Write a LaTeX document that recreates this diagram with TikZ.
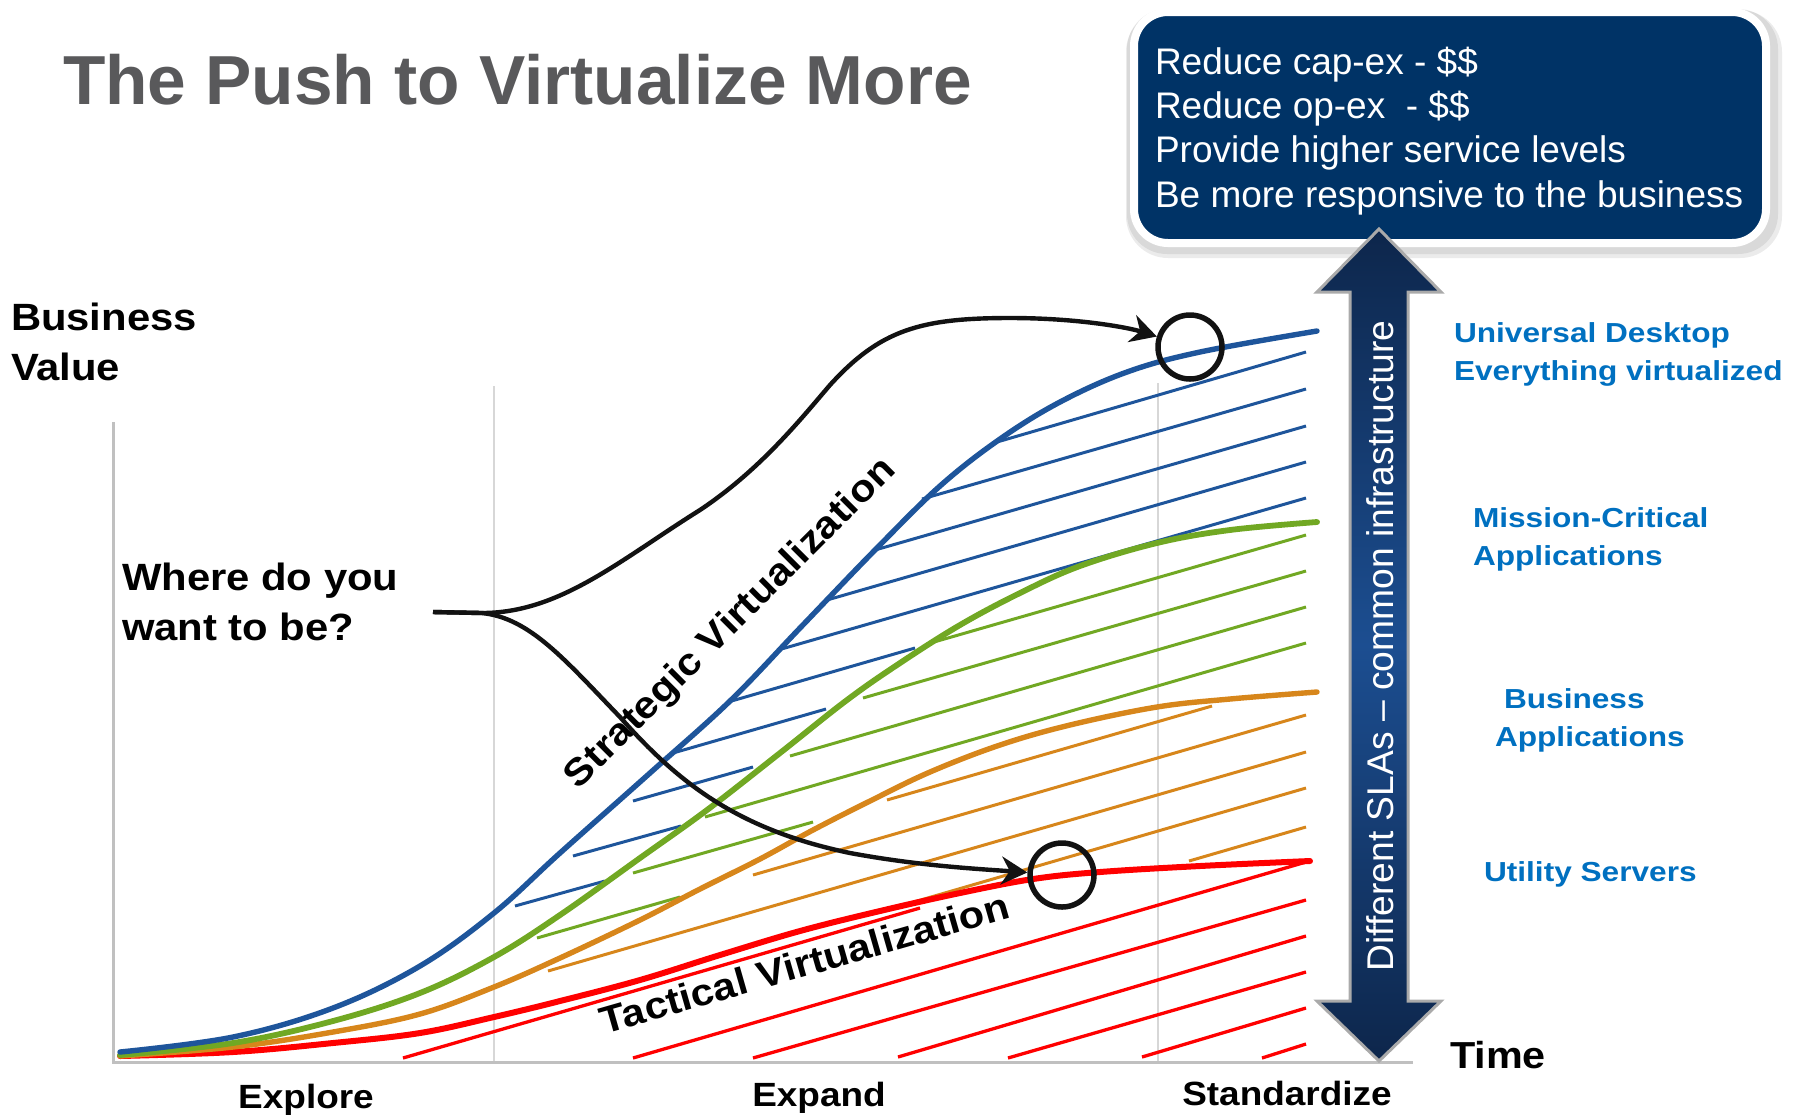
\documentclass[tikz,border=0pt]{standalone}
\usepackage{fontspec}
\setmainfont{Liberation Sans}
\newfontfamily\widesans[FakeStretch=1.1]{Liberation Sans}
\newfontfamily\widersans[FakeStretch=1.15]{Liberation Sans}
\usetikzlibrary{arrows.meta}
\definecolor{cblue}{RGB}{30,85,155}
\definecolor{cgreen}{RGB}{113,168,35}
\definecolor{corange}{RGB}{215,134,27}
\definecolor{cred}{RGB}{255,0,0}
\definecolor{navy}{RGB}{0,51,102}
\definecolor{arrdark}{RGB}{13,38,75}
\definecolor{arrlight}{RGB}{28,78,145}
\definecolor{arrgray}{RGB}{170,170,170}
\definecolor{titlegray}{RGB}{89,89,91}
\definecolor{lblblue}{RGB}{0,112,192}
\definecolor{gridgray}{RGB}{215,215,215}
\definecolor{axisgray}{RGB}{192,192,192}
\definecolor{inkblack}{RGB}{18,18,18}
\begin{document}
\begin{tikzpicture}[x=0.5pt,y=-0.5pt,
  txt/.style={inner sep=0pt,outer sep=0pt},
  titlestyle/.style={txt,font=\bfseries\fontsize{34.7}{40}\selectfont,text=titlegray},
  bigblack/.style={txt,align=left,font=\widesans\bfseries\fontsize{19}{24.7}\selectfont,text=black},
  axislbl/.style={txt,font=\widesans\bfseries\fontsize{16.8}{20}\selectfont,text=black},
  timelbl/.style={txt,font=\widesans\bfseries\fontsize{18.8}{22}\selectfont,text=black},
  diag/.style={txt,font=\widesans\bfseries\fontsize{18.9}{22}\selectfont,text=black},
  bluelbl/.style={txt,align=left,font=\widersans\bfseries\fontsize{13.75}{18.75}\selectfont,text=lblblue},
  goalbox/.style={rounded corners=17pt,fill=navy,draw=white,line width=4pt,inner sep=0pt},
  goaltext/.style={txt,align=left,font=\fontsize{18.5}{22.1}\selectfont,text=white},
  arrtext/.style={txt,font=\fontsize{18.6}{22}\selectfont,text=white},
  gridln/.style={draw=gridgray,line width=1pt},
  axisln/.style={draw=axisgray,line width=1.5pt},
  bh/.style={draw=cblue,line width=1.5pt},
  gh/.style={draw=cgreen,line width=1.5pt},
  oh/.style={draw=corange,line width=1.5pt},
  rh/.style={draw=cred,line width=1.65pt},
  curve/.style={line width=2.7pt,line cap=round},
  blk/.style={draw=inkblack,line width=2.2pt,-{Stealth[length=13pt,width=14pt]}},
  ring/.style={circle,draw=inkblack,line width=2.75pt,minimum size=32pt,inner sep=0pt}
]
\useasboundingbox (0,0) rectangle (1799,1116);

% grid and axes
\draw[gridln] (494,386) -- (494,1062);
\draw[gridln] (1158,383) -- (1158,1062);
\draw[axisln] (113,422) -- (113,1062) -- (1413,1062);

% hatch lines
\foreach \a/\b/\c/\d in {997/442/1306/352, 922/499/1306/389, 875/550/1306/426, 827/600/1306/462, 778/650/1306/498, 728/702/915/648, 673/753/826/709, 633/801/753/767, 573/856/681/826, 515/906/605/881}
  \draw[bh] (\a,\b) -- (\c,\d);
\foreach \a/\b/\c/\d in {934/642/1306/535, 863/698/1306/571, 790/756/1306/607, 705/817/1306/643, 633/873/813/822, 537/938/680/897}
  \draw[gh] (\a,\b) -- (\c,\d);
\foreach \a/\b/\c/\d in {887/800/1212/706, 753/875/1306/715, 548/971/1306/752, 900/906/1306/788, 1189/861/1306/827}
  \draw[oh] (\a,\b) -- (\c,\d);
\foreach \a/\b/\c/\d in {403/1058/920/908, 633/1058/1306/862, 753/1058/1306/900, 898/1057/1306/936, 1008/1058/1306/972, 1142/1057/1306/1008, 1262/1058/1306/1044}
  \draw[rh] (\a,\b) -- (\c,\d);

% main curves
\draw[curve,cred,line width=3pt] plot[smooth,tension=0.6] coordinates {(120,1056) (233,1052) (333,1043) (420,1033) (494,1017) (560,1001) (640,980) (720,955) (800,931) (880,911) (960,893) (1033,879) (1100,872) (1200,866) (1310,861)};
\draw[curve,corange] plot[smooth,tension=0.6] coordinates {(120,1056) (233,1047) (333,1032) (420,1014) (494,987) (560,958) (640,920) (700,889) (760,859) (813,830) (870,801) (930,772) (1000,745) (1070,725) (1157,707) (1230,699) (1317,692)};
\draw[curve,cgreen,line width=2.9pt] plot[smooth,tension=0.6] coordinates {(120,1055) (233,1043) (333,1021) (420,993) (494,957) (560,915) (640,858) (707,810) (780,753) (847,700) (900,663) (960,625) (1020,593) (1080,566) (1157,543) (1230,530) (1317,522)};
\draw[curve,cblue] plot[smooth,tension=0.6] coordinates {(120,1052) (233,1037) (333,1008) (420,966) (494,913) (560,853) (650,773) (730,701) (800,628) (875,550) (940,486) (1000,439) (1060,402) (1127,372) (1200,352) (1317,331)};

% title and labels
\node[titlestyle,anchor=base west] (title) at (63,104) {The Push to Virtualize More};
\node[bigblack,anchor=base west] (bv) at (11,380) {Business\\Value};
\node[bigblack,anchor=base west] (where) at (122,640) {Where do you\\want to be?};
\node[axislbl,anchor=base] (explore) at (306,1108) {Explore};
\node[axislbl,anchor=base] (expand) at (819,1106) {Expand};
\node[axislbl,anchor=base] (stdz) at (1287,1105) {Standardize};
\node[timelbl,anchor=base west] (time) at (1450,1068) {Time};
\node[diag,anchor=base,rotate=45] (strat) at (738,631) {Strategic Virtualization};
\node[diag,anchor=base,rotate=16] (tact) at (808,976) {Tactical Virtualization};

% targets and arrows
\node[ring] (c1) at (1190,347) {};
\node[ring] (c2) at (1062,875) {};
\coordinate (start) at (433,612);
\coordinate (fork) at (482,613);
\draw[blk] (start) -- (fork) .. controls (560,613) and (620,560) .. (700,510)
  .. controls (760,470) and (800,420) .. (830,385)
  .. controls (880,330) and (920,318) .. (1010,318)
  .. controls (1080,318) and (1130,328) .. (c1);
\draw[blk] (start) -- (fork) .. controls (530,618) and (565,660) .. (620,717)
  .. controls (680,785) and (740,830) .. (850,853)
  .. controls (920,866) and (980,869) .. (c2);

% callout box
\fill[black,opacity=0.08,rounded corners=21pt] (1126,10) rectangle (1782,258);
\fill[black,opacity=0.08,rounded corners=20pt] (1127,9) rectangle (1778,254);
\node[goalbox,minimum width=316pt,minimum height=115.5pt] (goals) at (1450,127.5) {};
\node[goaltext,anchor=base west] (goaltxt) at (1155,207) {Reduce cap-ex - \$\$\\Reduce op-ex\ \ - \$\$\\Provide higher service levels\\Be more responsive to the business};

% double arrow
\shadedraw[top color=arrdark,bottom color=arrdark,middle color=arrlight,draw=arrgray,line width=1.5pt]
  (1379,229) -- (1441,292) -- (1408,292) -- (1408,1001) -- (1441,1001) -- (1379,1061)
  -- (1317,1001) -- (1350,1001) -- (1350,292) -- (1317,292) -- cycle;
\node[arrtext,anchor=base,rotate=90] (sla) at (1393,646) {Different SLAs – common infrastructure};

% tier labels
\node[bluelbl,anchor=base west] (ud) at (1454,380) {Universal Desktop\\Everything virtualized};
\node[bluelbl,anchor=base west] (mc) at (1473,565) {Mission-Critical\\Applications};
\node[bluelbl,anchor=base west] (ba) at (1495,746) {\hspace*{4.5pt}Business\\Applications};
\node[bluelbl,anchor=base west] (us) at (1484,881) {Utility Servers};
\end{tikzpicture}
\end{document}
